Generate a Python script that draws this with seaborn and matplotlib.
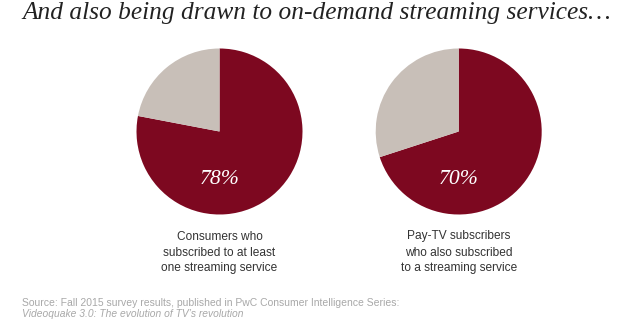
import matplotlib
matplotlib.use("Agg")
import matplotlib.pyplot as plt
import seaborn as sns

# Data
shares = [78, 70]
pct_labels = ["78%", "70%"]
captions = [
    ["Consumers who", "subscribed to at least", "one streaming service"],
    ["Pay-TV subscribers", "who also subscribed", "to a streaming service"],
]
title = "And also being drawn to on-demand streaming services\u2026"
source_line1 = "Source: Fall 2015 survey results, published in PwC Consumer Intelligence Series:"
source_line2 = "Videoquake 3.0: The evolution of TV\u2019s revolution"

sns.set_theme(style="white")
plt.rcParams['font.family'] = ['Liberation Sans', 'DejaVu Sans']

palette = sns.color_palette(["#7d0820", "#c8bfb8"])

W, H = 628, 327
fig = plt.figure(figsize=(W / 100, H / 100), dpi=100)
fig.patch.set_facecolor("white")


def fy(py):
    return 1 - py / H


centers = [(219.5, 131.5), (458.7, 131.5)]
R = 83
caption_baselines = [239.5, 255.5, 271.5]

for share, lab, cap, (cx, cy) in zip(shares, pct_labels, captions, centers):
    ax = fig.add_axes([(cx - R) / W, (H - cy - R) / H, 2 * R / W, 2 * R / H])
    ax.pie([share, 100 - share], colors=palette, startangle=90,
           counterclock=False, radius=1.0,
           wedgeprops=dict(linewidth=0, edgecolor="none"))
    ax.set_xlim(-1, 1)
    ax.set_ylim(-1, 1)
    ax.set_aspect("equal")
    ax.axis("off")
    fig.text(cx / W, fy(183.5), lab, ha="center", va="baseline",
             color="white", fontsize=15.7, style="italic",
             family=["Liberation Serif", "DejaVu Serif"])
    for line, by in zip(cap, caption_baselines):
        fig.text(cx / W, fy(by), line, ha="center", va="baseline",
                 color="#333333", fontsize=8.6)

fig.text(22 / W, fy(19), title, ha="left", va="baseline",
         fontsize=18.3, style="italic", color="#222222",
         family=["Liberation Serif", "DejaVu Serif"])

fig.text(22 / W, fy(306.5), source_line1, ha="left", va="baseline",
         fontsize=7.45, color="#a8a8a8")
fig.text(22 / W, fy(317.0), source_line2, ha="left", va="baseline",
         fontsize=7.4, color="#a8a8a8", style="italic")

fig.savefig("out.png", dpi=100)
